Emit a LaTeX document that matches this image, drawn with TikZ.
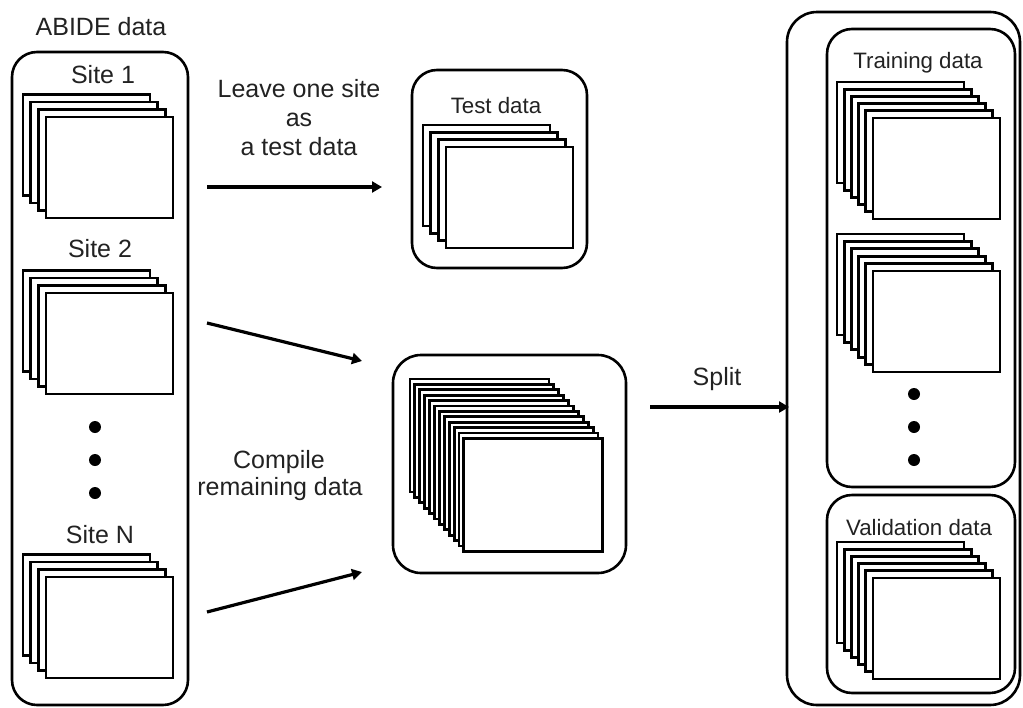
\documentclass[tikz,border=0pt]{standalone}
\usepackage{fontspec}
\setmainfont{Liberation Sans}
\usetikzlibrary{arrows.meta}
\definecolor{txt}{HTML}{222222}
\newcommand{\pagestack}[8]{%
  \foreach \i in {1,...,#4}{%
    \node[pg, minimum width=#7, minimum height=#8] (#1-\i) at ({#2+(\i-1)*#5},{#3+(\i-1)*#6}) {};%
  }%
}
\begin{document}
\begin{tikzpicture}[x=1pt,y=-1pt,
  pg/.style={draw, fill=white, anchor=north west, inner sep=0pt, outer sep=0pt, line width=2.9pt},
  box/.style={draw, line width=2.6pt, inner sep=0pt, outer sep=0pt, rounded corners=#1},
  box/.default=25pt,
  big/.style={font=\fontsize{25}{29}\selectfont, text=txt, inner sep=0pt},
  small/.style={font=\fontsize{22.3}{26}\selectfont, text=txt, inner sep=0pt},
  arr/.style={line width=3.2pt, -{Triangle[length=10pt,width=11pt]}},
  dot/.style={circle, fill=black, minimum size=12pt, inner sep=0pt}]
\useasboundingbox (0,0) rectangle (1023,707);

% containers
\node[box, minimum width=176pt, minimum height=653pt] (abide) at (100,378.5) {};
\node[box, minimum width=175pt, minimum height=198pt] (testbox) at (499.5,169) {};
\node[box=28pt, minimum width=233pt, minimum height=218pt] (midbox) at (509.5,464) {};
\node[box=30pt, minimum width=233pt, minimum height=693pt] (outer) at (903.5,358.5) {};
\node[box, minimum width=188pt, minimum height=458pt] (trainbox) at (921,258) {};
\node[box, minimum width=188pt, minimum height=198pt] (valbox) at (921,594) {};

% labels
\node[big, anchor=base] (labide) at (101,35) {ABIDE data};
\node[big, anchor=base] (lsite1) at (103,83) {Site 1};
\node[big, anchor=base] (lsite2) at (100,257) {Site 2};
\node[big, anchor=base] (lsiteN) at (100,543) {Site N};
\node[small, anchor=base] (ltest) at (496,113) {Test data};
\node[small, anchor=base] (ltrain) at (918,68) {Training data};
\node[small, anchor=base] (lval) at (919,535) {Validation data};
\node[big, anchor=base] (lleave1) at (299,97) {Leave one site};
\node[big, anchor=base] (lleave2) at (299,126) {as};
\node[big, anchor=base] (lleave3) at (299,155) {a test data};
\node[big, anchor=base] (lcomp1) at (279,468) {Compile};
\node[big, anchor=base] (lcomp2) at (280,495) {remaining data};
\node[big, anchor=base] (lsplit) at (717,385) {Split};

% page stacks
\pagestack{s1}{23}{94.5}{4}{7.67}{7.5}{127pt}{101pt}
\pagestack{s2}{23}{270.5}{4}{7.67}{7.5}{127pt}{101pt}
\pagestack{sN}{23}{554.5}{4}{7.67}{7.5}{127pt}{101pt}
\pagestack{st}{423}{125}{4}{7.67}{7.33}{127pt}{101pt}
\pagestack{sm}{410}{379}{12}{4.9}{5.4}{139pt}{113pt}
\pagestack{tr1}{837}{82}{6}{7.2}{7.2}{127pt}{101pt}
\pagestack{tr2}{837}{234}{6}{7.2}{7.4}{127pt}{101pt}
\pagestack{va}{837}{542}{6}{7.2}{7.2}{127pt}{101pt}

% dots
\node[dot] (d1) at (95,427) {};
\node[dot] (d2) at (95,460) {};
\node[dot] (d3) at (95,493) {};
\node[dot] (d4) at (914,394) {};
\node[dot] (d5) at (914,427) {};
\node[dot] (d6) at (914,460) {};

% arrows
\coordinate (a1s) at (207,187); \coordinate (a1e) at (382,187);
\coordinate (a2s) at (207,323); \coordinate (a2e) at (362,361);
\coordinate (a3s) at (207,612); \coordinate (a3e) at (362,572);
\coordinate (a4s) at (650,407); \coordinate (a4e) at (789,407);
\draw[arr] (a1s) -- (a1e);
\draw[arr] (a2s) -- (a2e);
\draw[arr] (a3s) -- (a3e);
\draw[arr] (a4s) -- (a4e);
\end{tikzpicture}
\end{document}
